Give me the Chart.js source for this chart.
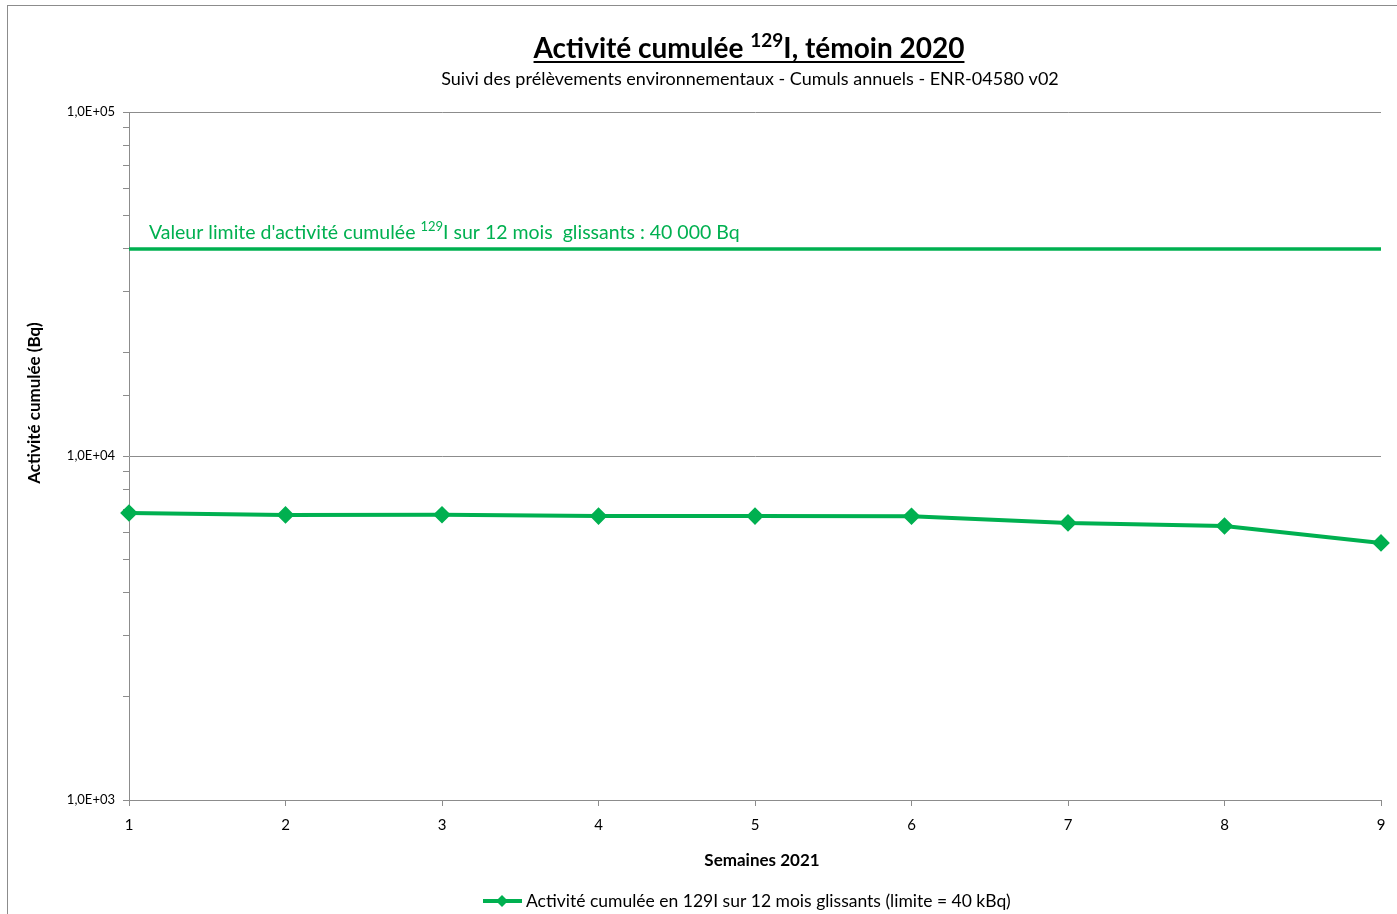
<!DOCTYPE html>
<html>
<head>
<meta charset="utf-8">
<script src="https://cdn.jsdelivr.net/npm/chart.js@4.4.0/dist/chart.umd.min.js"></script>
<style>
  html, body { margin: 0; padding: 0; background: #fff; overflow: hidden; }
  #wrap { position: relative; width: 1397px; height: 914px; }
</style>
</head>
<body>
<div id="wrap"><canvas id="chart" width="1397" height="914"></canvas></div>
<script>
// data
const semaines = ['1', '2', '3', '4', '5', '6', '7', '8', '9'];
const activiteCumulee = [6830, 6740, 6750, 6690, 6690, 6680, 6390, 6260, 5590];
const valeurLimite = [40000, 40000, 40000, 40000, 40000, 40000, 40000, 40000, 40000];
const yTickLabels = { 1000: '1,0E+03', 10000: '1,0E+04', 100000: '1,0E+05' };

const VERT = '#00B050';
const FONT = 'Lato, "Open Sans", sans-serif';
Chart.defaults.font.family = FONT;

// text with a superscript part
function drawRich(ctx, parts, x, y, size, weight, color, align, underline) {
  const fonts = parts.map(p => weight + ' ' + (p.sup ? Math.round(size * 0.68) : size) + 'px ' + FONT);
  let w = 0;
  const widths = parts.map((p, i) => { ctx.font = fonts[i]; const m = ctx.measureText(p.t).width; w += m; return m; });
  let cx = align === 'center' ? x - w / 2 : x;
  const start = cx;
  ctx.fillStyle = color;
  ctx.textBaseline = 'alphabetic';
  ctx.textAlign = 'left';
  parts.forEach((p, i) => {
    ctx.font = fonts[i];
    ctx.fillText(p.t, cx, p.sup ? y - size * 0.38 : y);
    cx += widths[i];
  });
  if (underline) {
    ctx.fillRect(start, y + 3, w, 2);
  }
}

const textPlugin = {
  id: 'texts',
  afterDraw(chart) {
    const ctx = chart.ctx;
    ctx.save();
    // outer frame
    ctx.strokeStyle = '#8c8c8c'; ctx.lineWidth = 1;
    ctx.strokeRect(7.5, 5.5, 1420, 940);

    drawRich(ctx, [{ t: 'Activité cumulée ' }, { t: '129', sup: true }, { t: 'I, témoin 2020' }],
      749, 58, 28, 'bold', '#000', 'center', true);
    drawRich(ctx, [{ t: 'Suivi des prélèvements environnementaux - Cumuls annuels - ENR-04580 v02' }],
      750, 85, 18, 'normal', '#000', 'center', false);

    const yLim = chart.scales.y.getPixelForValue(valeurLimite[0]);
    drawRich(ctx, [{ t: "Valeur limite d'activité cumulée " }, { t: '129', sup: true }, { t: 'I sur 12 mois  glissants : 40 000 Bq' }],
      149, yLim - 10, 19.5, 'normal', VERT, 'left', false);

    // y axis title
    ctx.save();
    ctx.translate(35, 403);
    ctx.rotate(-Math.PI / 2);
    ctx.font = 'bold 17px ' + FONT;
    ctx.fillStyle = '#000';
    ctx.textAlign = 'center';
    ctx.textBaseline = 'middle';
    ctx.fillText('Activité cumulée (Bq)', 0, 0);
    ctx.restore();

    // x axis title
    ctx.font = 'bold 17px ' + FONT;
    ctx.fillStyle = '#000';
    ctx.textAlign = 'center';
    ctx.textBaseline = 'middle';
    ctx.fillText('Semaines 2021', 762, 861);

    // legend
    const ly = 901;
    ctx.strokeStyle = VERT; ctx.lineWidth = 4;
    ctx.beginPath(); ctx.moveTo(483, ly); ctx.lineTo(522, ly); ctx.stroke();
    ctx.fillStyle = VERT;
    ctx.beginPath(); ctx.moveTo(502, ly - 6); ctx.lineTo(508, ly); ctx.lineTo(502, ly + 6); ctx.lineTo(496, ly); ctx.closePath(); ctx.fill();
    ctx.font = '17.5px ' + FONT;
    ctx.fillStyle = '#000';
    ctx.textAlign = 'left';
    ctx.textBaseline = 'middle';
    ctx.fillText(chart.data.datasets[0].label, 526, ly);
    ctx.restore();
  }
};

const isDecade = v => Math.abs(Math.log10(v) - Math.round(Math.log10(v))) < 1e-9;

new Chart(document.getElementById('chart'), {
  type: 'line',
  data: {
    labels: semaines,
    datasets: [{
      label: 'Activité cumulée en 129I sur 12 mois glissants (limite = 40 kBq)',
      data: activiteCumulee,
      borderColor: VERT,
      backgroundColor: VERT,
      borderWidth: 4,
      pointStyle: 'rectRot',
      pointRadius: 6,
      pointHoverRadius: 6,
      tension: 0,
      clip: false
    }, {
      label: 'Valeur limite',
      data: valeurLimite,
      borderColor: VERT,
      borderWidth: 3.5,
      pointRadius: 0,
      tension: 0,
      clip: false
    }]
  },
  options: {
    responsive: false,
    animation: false,
    layout: { padding: { top: 112, right: 16, left: 0, bottom: 0 } },
    plugins: {
      title: { display: false },
      tooltip: { enabled: false },
      legend: { display: false }
    },
    scales: {
      x: {
        type: 'category',
        offset: false,
        afterFit: s => { s.height = 114; },
        grid: { drawOnChartArea: false, tickLength: 6, tickColor: '#8c8c8c' },
        border: { color: '#8c8c8c' },
        ticks: { color: '#000', font: { size: 15 }, padding: 10, maxRotation: 0 },
      },
      y: {
        type: 'logarithmic',
        min: 1000,
        max: 100000,
        afterFit: s => { s.width = 129; },
        grid: {
          color: c => (c.tick && isDecade(c.tick.value)) ? '#8c8c8c' : 'rgba(0,0,0,0)',
          tickColor: '#8c8c8c',
          tickLength: 6
        },
        border: { color: '#8c8c8c' },
        ticks: {
          color: '#000',
          font: { size: 13 },
          padding: 8,
          autoSkip: false,
          callback: v => yTickLabels[v] || ''
        }
      }
    }
  },
  plugins: [textPlugin]
});
</script>
</body>
</html>
